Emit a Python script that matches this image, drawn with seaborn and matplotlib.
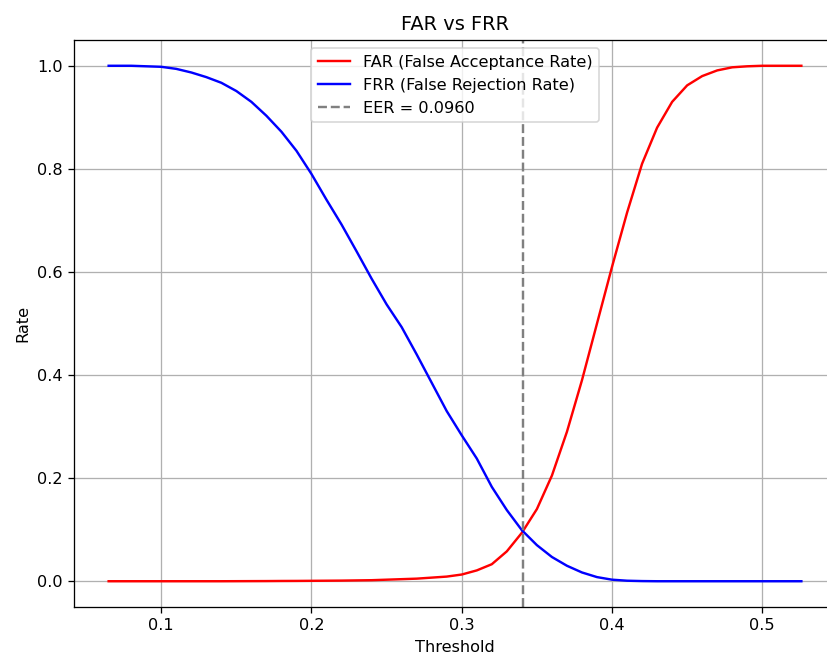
import numpy as np
import seaborn as sns
import matplotlib.pyplot as plt

# thresholds and rates
thresholds = [0.065, 0.08, 0.10, 0.11, 0.12, 0.13, 0.14, 0.15, 0.16, 0.17,
              0.18, 0.19, 0.20, 0.21, 0.22, 0.23, 0.24, 0.25, 0.26, 0.27,
              0.28, 0.29, 0.30, 0.31, 0.32, 0.33, 0.34, 0.35, 0.36, 0.37,
              0.38, 0.39, 0.40, 0.41, 0.42, 0.43, 0.44, 0.45, 0.46, 0.47,
              0.48, 0.49, 0.50, 0.526]

far = [0.0, 0.0, 0.0, 0.0, 0.0, 0.0, 0.0, 0.0001, 0.0002, 0.0003,
       0.0005, 0.0006, 0.0008, 0.001, 0.0012, 0.0016, 0.002, 0.003, 0.004, 0.005,
       0.007, 0.009, 0.013, 0.021, 0.033, 0.058, 0.094, 0.14, 0.205, 0.29,
       0.39, 0.50, 0.61, 0.715, 0.81, 0.88, 0.93, 0.962, 0.98, 0.991,
       0.997, 0.999, 1.0, 1.0]

frr = [1.0, 1.0, 0.998, 0.994, 0.987, 0.978, 0.967, 0.951, 0.93, 0.903,
       0.872, 0.835, 0.79, 0.74, 0.692, 0.64, 0.587, 0.537, 0.493, 0.44,
       0.385, 0.33, 0.283, 0.238, 0.183, 0.138, 0.099, 0.07, 0.047, 0.03,
       0.017, 0.008, 0.003, 0.001, 0.0003, 0.0, 0.0, 0.0, 0.0, 0.0,
       0.0, 0.0, 0.0, 0.0]

eer = 0.0960
eer_threshold = 0.341

W, H = 827, 661
dpi = 116
fig = plt.figure(figsize=(W / dpi, H / dpi), dpi=dpi)
# axes box in pixels: left 74, right 836 (runs past the crop), top 40, bottom 607
ax = fig.add_axes([74 / W, 1 - 607 / H, (836 - 74) / W, (607 - 40) / H])

sns.lineplot(x=thresholds, y=far, color="red", label="FAR (False Acceptance Rate)", ax=ax)
sns.lineplot(x=thresholds, y=frr, color="blue", label="FRR (False Rejection Rate)", ax=ax)
ax.axvline(eer_threshold, color="gray", linestyle="--", label=f"EER = {eer:.4f}")

ax.set_title("FAR vs FRR")
ax.set_xlabel("Threshold")
ax.set_ylabel("Rate")
ax.legend(loc="upper center")
ax.grid(True)

fig.savefig("out.png", dpi=dpi)
